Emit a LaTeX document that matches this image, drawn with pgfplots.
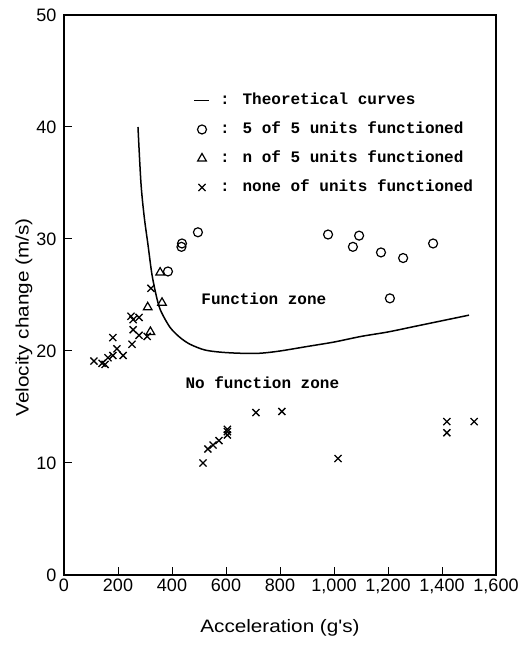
\documentclass[border=0pt]{standalone}
\usepackage{fontspec}
\setmainfont{Liberation Sans}
\newfontfamily\labfont[FakeStretch=1.15]{Liberation Sans}
\newfontfamily\twfont{Liberation Mono}
\usepackage{pgfplots}
\pgfplotsset{compat=1.18}
\usetikzlibrary{calc}

\begin{document}
\begin{tikzpicture}
\begin{axis}[
  scale only axis, width=432pt, height=560pt,
  xmin=0, xmax=1600, ymin=0, ymax=50,
  xtick={0,200,...,1600}, ytick={0,10,...,50},
  tick align=inside, tick pos=left,
  major tick length=8pt,
  axis line style={line width=1.3pt},
  every tick/.style={black, line width=1pt},
  ticklabel style={font=\fontsize{18}{20}\selectfont},
  yticklabel style={xshift=-4pt},
  /pgf/number format/assume math mode=true,
  /pgf/number format/1000 sep={,},
  xlabel={Acceleration (g's)},
  ylabel={Velocity change (m/s)},
  label style={font=\labfont\fontsize{18}{20}\selectfont},
  xlabel style={at={(axis description cs:0.5,-0.094)}, anchor=center},
  ylabel style={at={(axis description cs:-0.0926,0.46)}, anchor=center, rotate=0},
  legend cell align=left,
  legend style={draw=none, fill=none, inner sep=0pt,
    at={(rel axis cs:0.2998,0.862)}, anchor=north west,
    font=\twfont\bfseries\fontsize{16}{18}\selectfont,
    nodes={text height=11pt, text depth=3pt, inner sep=1pt},
    row sep=13pt},
  /tikz/every odd column/.append style={column sep=9pt},
]
\addplot[black, line width=1.5pt, smooth, tension=0.5,
  legend image code/.code={\draw[line width=1.5pt] (1pt,0pt) -- (16pt,0pt);}]
  coordinates {(274,40) (285,35) (297,32) (311,29.5) (326,26.8) (345,24.6) (360,23.5)
  (393,22.1) (430,21.2) (467,20.6) (520,20.1) (578,19.9) (650,19.8) (726,19.8)
  (800,20.0) (900,20.4) (1000,20.8) (1100,21.3) (1200,21.7) (1300,22.2) (1400,22.7) (1500,23.2)};
\addlegendentry{: Theoretical curves}
\addplot[only marks, mark=o, mark size=4.5pt, line width=1.2pt, black]
  coordinates {(385,27.1) (435,29.3) (437,29.6) (496,30.6) (978,30.4) (1093,30.3)
  (1070,29.3) (1174,28.8) (1256,28.3) (1367,29.6) (1207,24.7)};
\addlegendentry{: 5 of 5 units functioned}
\addplot[only marks, mark=triangle, mark size=5pt, line width=1.2pt, black]
  coordinates {(356,27.0) (363,24.3) (310,23.9) (320,21.7)};
\addlegendentry{: n of 5 units functioned}
\addplot[only marks, mark=x, mark size=5pt, line width=1.3pt, black]
  coordinates {(322,25.6) (248,23.1) (256,22.8) (278,23.0) (256,21.9) (278,21.4)
  (252,20.6) (181,21.2) (196,20.2) (219,19.6) (181,19.6) (163,19.4) (141,18.9)
  (111,19.1) (152,18.8) (308,21.3)
  (515,10.0) (533,11.25) (552,11.6) (574,12.0) (605,12.5) (605,12.8) (605,13.0)
  (711,14.5) (807,14.6) (1015,10.4) (1418,13.7) (1418,12.7) (1519,13.7)};
\addlegendentry{: none of units functioned}
\node[anchor=west, font=\twfont\bfseries\fontsize{16}{18}\selectfont] at (axis cs:496,24.7) {Function zone};
\node[anchor=west, font=\twfont\bfseries\fontsize{16}{18}\selectfont] at (axis cs:437,17.2) {No function zone};
\end{axis}
\path ($(current axis.south west)+(-64pt,-75pt)$) rectangle ($(current axis.north east)+(34pt,15pt)$);
\end{tikzpicture}
\end{document}
